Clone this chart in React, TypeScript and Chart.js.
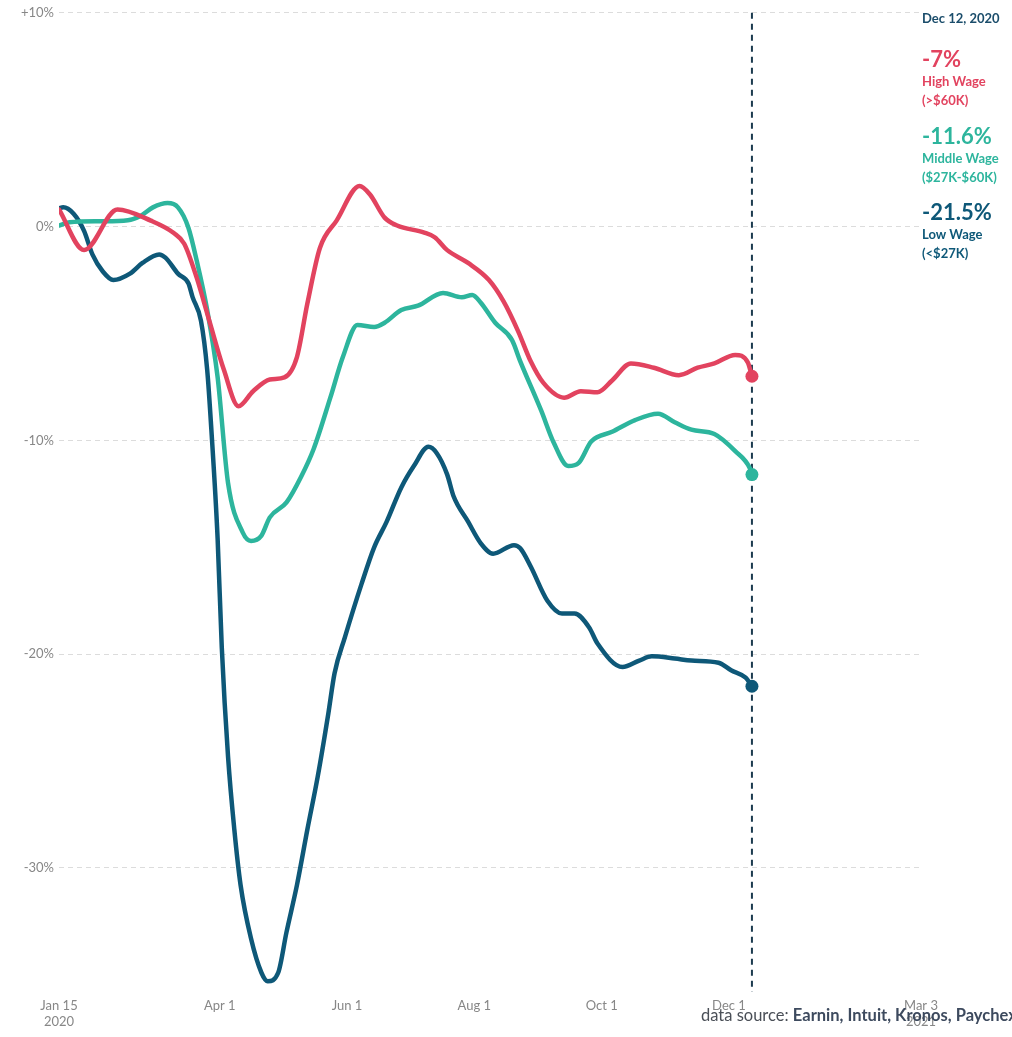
import React, { useEffect, useRef } from 'react';
import { Chart, registerables } from 'chart.js';

Chart.register(...registerables);

const FONT = 'Lato, "Open Sans", sans-serif';

// x positions are days after Jan 15, 2020
const xTickDays = [0, 77, 138, 199, 260, 321, 413];
const xTickLabels: (string | string[])[] = [['Jan 15', '2020'], 'Apr 1', 'Jun 1', 'Aug 1', 'Oct 1', 'Dec 1', ['Mar 3', '2021']];
const yTickValues = [10, 0, -10, -20, -30];
const yTickLabels = ['+10%', '0%', '-10%', '-20%', '-30%'];
const markerDay = 332;
const markerLabel = 'Dec 12, 2020';

const seriesNames = ['High Wage', 'Middle Wage', 'Low Wage'];
const seriesRanges = ['(>$60K)', '($27K-$60K)', '(<$27K)'];
const seriesColors = ['#e2435f', '#2db59d', '#0e5878'];

const highDays = [0, 12, 28, 44, 55, 60, 66, 72, 79, 86, 93, 101, 108, 114, 119, 125, 133, 144, 149, 156, 162, 175, 180, 186, 196, 206, 213, 220, 226, 232, 242, 250, 258, 265, 274, 285, 297, 306, 314, 324, 330, 332];
const highValues = [0.8, -1.1, 0.8, 0.28, -0.3, -0.8, -2.4, -4.4, -6.7, -8.4, -7.7, -7.15, -7.05, -6.1, -3.6, -1.0, 0.28, 1.9, 1.5, 0.42, 0.05, -0.28, -0.5, -1.1, -1.7, -2.5, -3.5, -4.9, -6.3, -7.3, -8.0, -7.7, -7.75, -7.2, -6.4, -6.6, -6.95, -6.6, -6.4, -6.0, -6.35, -7.0];

const midDays = [0, 5, 20, 33, 39, 45, 52, 57, 62, 66, 71, 76, 81, 88, 92, 97, 101, 109, 116, 122, 130, 136, 143, 151, 156, 164, 172, 184, 193, 198, 202, 209, 217, 221, 231, 237, 244, 249, 255, 265, 276, 287, 295, 303, 314, 324, 331, 332];
const midValues = [0.05, 0.2, 0.25, 0.3, 0.5, 0.9, 1.1, 0.9, -0.05, -1.6, -3.9, -7.05, -12.0, -14.3, -14.7, -14.45, -13.6, -12.9, -11.7, -10.4, -8.0, -6.1, -4.6, -4.7, -4.5, -3.9, -3.7, -3.1, -3.3, -3.2, -3.55, -4.5, -5.3, -6.3, -8.6, -10.1, -11.2, -11.05, -10.05, -9.6, -9.05, -8.75, -9.15, -9.5, -9.7, -10.5, -11.3, -11.6];

const lowDays = [0, 2, 7, 12, 16, 21, 26, 34, 40, 48, 51, 57, 62, 64, 68, 71, 73, 76, 78, 81, 84, 87, 92, 97, 100, 105, 109, 114, 119, 124, 129, 132, 137, 145, 151, 157, 164, 170, 177, 181, 186, 189, 196, 202, 208, 218, 221, 226, 234, 241, 247, 254, 258, 270, 278, 284, 295, 303, 316, 322, 329, 332];
const lowValues = [0.85, 0.9, 0.6, -0.2, -1.3, -2.1, -2.5, -2.2, -1.7, -1.3, -1.45, -2.2, -2.65, -3.3, -4.4, -6.7, -9.5, -14.6, -19.7, -24.8, -28.2, -30.8, -33.3, -34.9, -35.3, -34.9, -33.0, -30.8, -28.2, -25.7, -22.8, -20.9, -19.2, -16.7, -15.0, -13.8, -12.2, -11.2, -10.3, -10.6, -11.6, -12.6, -13.8, -14.8, -15.3, -14.9, -15.05, -15.9, -17.5, -18.1, -18.1, -18.75, -19.5, -20.6, -20.3, -20.1, -20.2, -20.3, -20.4, -20.75, -21.1, -21.5];

const sourceLabel = 'data source: ';
const sourceNames = 'Earnin, Intuit, Kronos, Paychex';

const seriesDays = [highDays, midDays, lowDays];
const seriesValues = [highValues, midValues, lowValues];

const overlayPlugin = {
  id: 'overlay',
  beforeDatasetsDraw(chart: any) {
    const { ctx, chartArea, scales } = chart;
    const x = scales.x.getPixelForValue(markerDay);
    ctx.save();
    ctx.strokeStyle = '#1c3b4f';
    ctx.lineWidth = 2;
    ctx.setLineDash([6, 5]);
    ctx.beginPath();
    ctx.moveTo(x, chartArea.top);
    ctx.lineTo(x, chartArea.bottom);
    ctx.stroke();
    ctx.restore();
  },
  afterDraw(chart: any) {
    const { ctx, chartArea } = chart;
    const x = chartArea.right + 1;
    ctx.save();
    ctx.textAlign = 'left';
    ctx.textBaseline = 'middle';
    ctx.fillStyle = '#1b4d6b';
    ctx.font = `bold 13px ${FONT}`;
    ctx.fillText(markerLabel, x, 19);
    const blockTops = [60, 137, 213];
    for (let i = 0; i < 3; i++) {
      const vals = seriesValues[i];
      const last = vals[vals.length - 1];
      ctx.fillStyle = seriesColors[i];
      ctx.font = `bold 22px ${FONT}`;
      ctx.fillText(`${last}%`, x, blockTops[i]);
      ctx.font = `bold 13px ${FONT}`;
      ctx.fillText(seriesNames[i], x, blockTops[i] + 22);
      ctx.fillText(seriesRanges[i], x, blockTops[i] + 41);
    }
    // data source
    ctx.font = `16.5px ${FONT}`;
    ctx.fillStyle = '#4a4f57';
    const sx = 701;
    const sy = 1016;
    ctx.fillText(sourceLabel, sx, sy);
    const w = ctx.measureText(sourceLabel).width;
    ctx.font = `bold 16.5px ${FONT}`;
    ctx.fillStyle = '#3d4a5e';
    ctx.fillText(sourceNames, sx + w, sy);
    ctx.restore();
  },
};

export default function App() {
  const canvasRef = useRef<HTMLCanvasElement | null>(null);

  useEffect(() => {
    if (!canvasRef.current) return;
    const datasets = seriesDays.map((days, s) => ({
      label: seriesNames[s],
      data: days.map((d, i) => ({ x: d, y: seriesValues[s][i] })),
      borderColor: seriesColors[s],
      backgroundColor: seriesColors[s],
      borderWidth: 4.5,
      borderCapStyle: 'round' as const,
      borderJoinStyle: 'round' as const,
      cubicInterpolationMode: 'monotone' as const,
      pointRadius: (ctx: any) => (ctx.dataIndex === days.length - 1 ? 6.5 : 0),
      pointBorderWidth: 0,
      pointBackgroundColor: seriesColors[s],
      fill: false,
    }));
    const chart = new Chart(canvasRef.current, {
      type: 'line',
      data: { datasets },
      options: {
        animation: false,
        responsive: true,
        maintainAspectRatio: false,
        events: [],
        layout: { padding: { top: 12, right: 91, left: 0, bottom: 0 } },
        plugins: { legend: { display: false }, tooltip: { enabled: false } },
        scales: {
          x: {
            type: 'linear',
            min: 0,
            max: 413,
            afterBuildTicks: (scale: any) => {
              scale.ticks = xTickDays.map((v) => ({ value: v }));
            },
            afterFit: (scale: any) => {
              scale.height = 45;
            },
            grid: { display: false, drawTicks: false },
            border: { display: false },
            ticks: {
              autoSkip: false,
              maxRotation: 0,
              padding: 6,
              color: '#878787',
              font: { family: FONT, size: 13, lineHeight: 1.2 },
              callback: (_v: any, i: number) => xTickLabels[i],
            },
          },
          y: {
            min: -35.8,
            max: 10,
            afterBuildTicks: (scale: any) => {
              scale.ticks = yTickValues.map((v) => ({ value: v }));
            },
            afterFit: (scale: any) => {
              scale.width = 59;
            },
            grid: { color: '#dcdcdc', lineWidth: 1, drawTicks: false },
            border: { display: false, dash: [5, 4] },
            ticks: {
              padding: 5,
              color: '#878787',
              font: { family: FONT, size: 13 },
              callback: (v: any) => yTickLabels[yTickValues.indexOf(Number(v))],
            },
          },
        },
      },
      plugins: [overlayPlugin],
    });
    return () => chart.destroy();
  }, []);

  return (
    <div style={{ position: 'absolute', left: 0, top: 0, width: 1012, height: 1037, overflow: 'hidden', background: '#fff' }}>
      <canvas ref={canvasRef} style={{ display: 'block' }} />
    </div>
  );
}
